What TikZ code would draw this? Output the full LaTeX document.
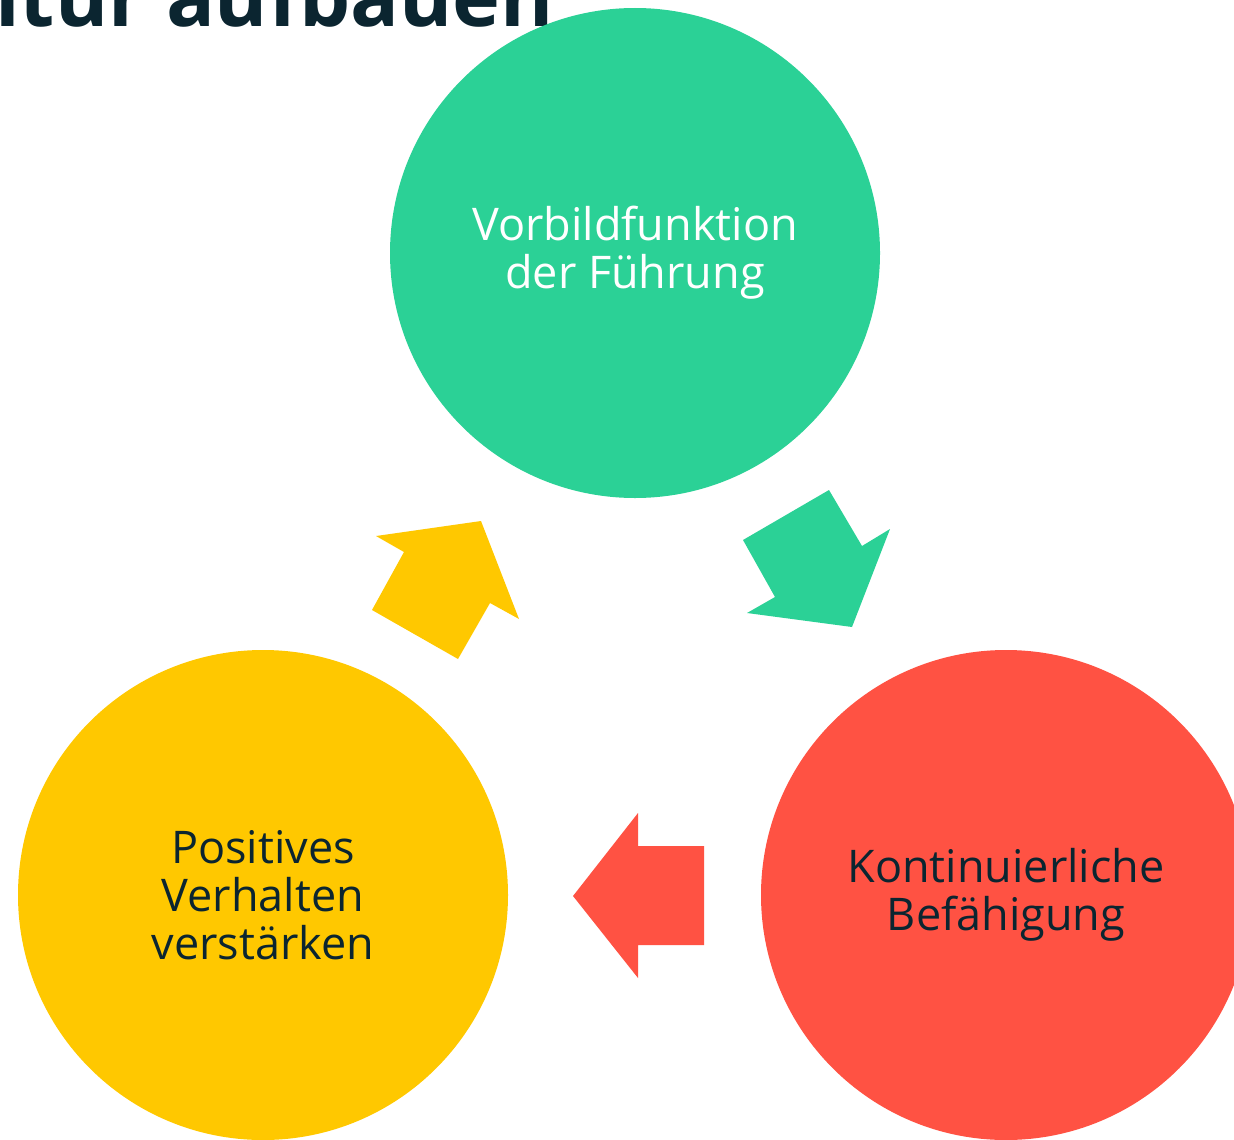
\documentclass[tikz,border=0pt]{standalone}
\usepackage{fontspec}
\setmainfont{Open Sans}
\definecolor{mint}{HTML}{2BD196}
\definecolor{sun}{HTML}{FFC800}
\definecolor{coral}{HTML}{FF5243}
\definecolor{ink}{HTML}{0B2530}
\tikzset{
  blob/.style={circle, minimum size=490pt, inner sep=0pt, align=center,
    font=\fontsize{45}{48}\selectfont},
  blockarrow/.style={draw=none}
}
\begin{document}
\begin{tikzpicture}[x=1pt,y=-1pt]
  \useasboundingbox (0,0) rectangle (1234,1140);
  \clip (0,0) rectangle (1234,1140);
  % heading, cut off by the top edge
  \node[anchor=base west, inner sep=0pt, text=ink,
        font=\fontsize{81}{81}\selectfont\bfseries] (heading) at (-5,27) {ltur aufbauen};
  % the three stages
  \node[blob, fill=mint, text=white] (vorbild) at (635,253) {Vorbildfunktion\\der Führung};
  \node[blob, fill=coral, text=ink] (befaehigung) at (1006,895) {Kontinuierliche\\Befähigung};
  \node[blob, fill=sun, text=ink] (verhalten) at (263,895) {Positives\\Verhalten\\verstärken};
  % block arrows of the cycle
  \fill[mint, blockarrow] (743,540) -- (829,490) -- (862,546) -- (890,529) -- (852,627)
        -- (747,613) -- (775,597) -- cycle;
  \fill[coral, blockarrow] (573,896) -- (638,813) -- (638,846) -- (704,846) -- (704,945)
        -- (638,945) -- (638,978) -- cycle;
  \fill[sun, blockarrow] (372,610) -- (458,659) -- (490,603) -- (519,619) -- (481,521)
        -- (376,536) -- (404,552) -- cycle;
\end{tikzpicture}
\end{document}
